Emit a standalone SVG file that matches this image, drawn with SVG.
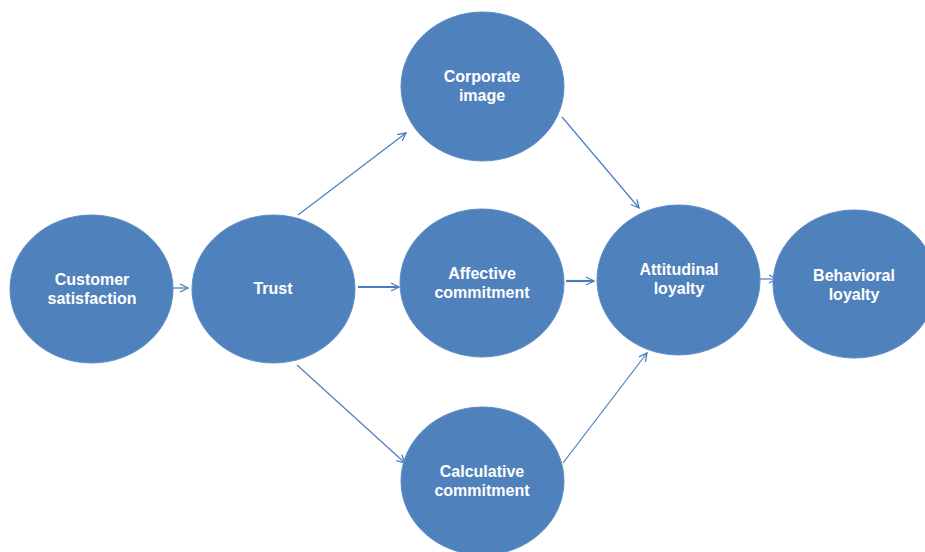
<svg xmlns="http://www.w3.org/2000/svg" width="925" height="552" viewBox="0 0 925 552">
<defs>
<style>
.node ellipse{fill:#4F81BD;stroke:#5B8CC6;stroke-width:1}
.node text{fill:#FFFFFF;font-family:"Liberation Sans",Arial,sans-serif;font-weight:bold;font-size:16px;text-anchor:middle}
.edge{stroke:#4A7EBB;stroke-width:1.2;fill:none;marker-end:url(#arr)}
.thick{stroke-width:2.2}
</style>
<marker id="arr" viewBox="0 0 10 10" refX="9" refY="5" markerWidth="10" markerHeight="10" markerUnits="userSpaceOnUse" orient="auto">
<path d="M1,1 L9,5 L1,9" fill="none" stroke="#4A7EBB" stroke-width="1.3"/>
</marker>
</defs>
<rect width="925" height="552" fill="#FFFFFF"/>
<g id="connectors">
<line class="edge" x1="173" y1="288" x2="188" y2="288"/>
<line class="edge" x1="298" y1="215" x2="406" y2="133"/>
<line class="edge thick" x1="358" y1="287" x2="399" y2="287"/>
<line class="edge" x1="297" y1="365" x2="405" y2="463"/>
<line class="edge" x1="562" y1="117" x2="639" y2="208"/>
<line class="edge thick" x1="566" y1="281" x2="594" y2="281"/>
<line class="edge" x1="563" y1="463" x2="647" y2="353"/>
<line class="edge" x1="760" y1="279" x2="777" y2="279"/>
</g>
<g id="customer-satisfaction" class="node">
<ellipse cx="91.5" cy="289" rx="81.5" ry="74"/>
<text x="92" y="285">Customer</text>
<text x="92" y="304">satisfaction</text>
</g>
<g id="trust" class="node">
<ellipse cx="273.5" cy="289" rx="81.5" ry="74"/>
<text x="273" y="294">Trust</text>
</g>
<g id="corporate-image" class="node">
<ellipse cx="482.5" cy="86.5" rx="81.5" ry="74.5"/>
<text x="482" y="82">Corporate</text>
<text x="482" y="101">image</text>
</g>
<g id="affective-commitment" class="node">
<ellipse cx="482" cy="283" rx="82" ry="74"/>
<text x="482" y="279">Affective</text>
<text x="482" y="298">commitment</text>
</g>
<g id="calculative-commitment" class="node">
<ellipse cx="482.5" cy="481" rx="81.5" ry="74"/>
<text x="482" y="477">Calculative</text>
<text x="482" y="496">commitment</text>
</g>
<g id="attitudinal-loyalty" class="node">
<ellipse cx="678.5" cy="280" rx="81.5" ry="75"/>
<text x="679" y="275">Attitudinal</text>
<text x="679" y="294">loyalty</text>
</g>
<g id="behavioral-loyalty" class="node">
<ellipse cx="854.5" cy="284" rx="81.5" ry="74"/>
<text x="854" y="281">Behavioral</text>
<text x="854" y="300">loyalty</text>
</g>
</svg>
